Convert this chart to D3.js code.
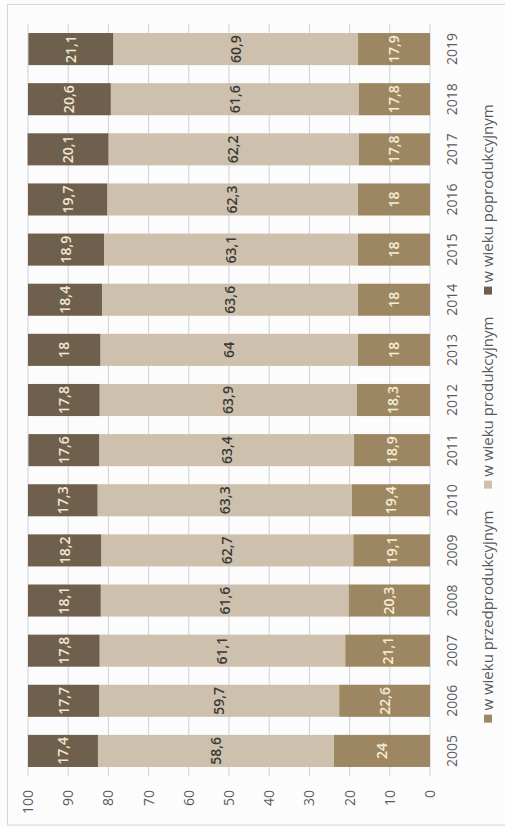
<!DOCTYPE html>
<html>
<head>
<meta charset="utf-8">
<script src="https://cdn.jsdelivr.net/npm/d3@7"></script>
<style>
  html, body { margin: 0; padding: 0; background: #fcfcfc; }
  svg { display: block; }
  text { font-family: "Open Sans", "Noto Sans", sans-serif; }
</style>
</head>
<body>
<svg id="chart" width="505" height="827"></svg>
<script>
const years = ["2005","2006","2007","2008","2009","2010","2011","2012","2013","2014","2015","2016","2017","2018","2019"];
const przedprodukcyjny = [24, 22.6, 21.1, 20.3, 19.1, 19.4, 18.9, 18.3, 18, 18, 18, 18, 17.8, 17.8, 17.9];
const produkcyjny = [58.6, 59.7, 61.1, 61.6, 62.7, 63.3, 63.4, 63.9, 64, 63.6, 63.1, 62.3, 62.2, 61.6, 60.9];
const poprodukcyjny = [17.4, 17.7, 17.8, 18.1, 18.2, 17.3, 17.6, 17.8, 18, 18.4, 18.9, 19.7, 20.1, 20.6, 21.1];
const seriesNames = ["w wieku przedprodukcyjnym", "w wieku produkcyjnym", "w wieku poprodukcyjnym"];
const valueTicks = [0, 10, 20, 30, 40, 50, 60, 70, 80, 90, 100];

const colors = ["#9d8762", "#cdc1ae", "#6f604e"];
const labelColors = ["#f4edd6", "#3b3a36", "#efe7cf"];

const svg = d3.select("#chart");
const W = 827, H = 505;

// chart border
svg.append("rect").attr("x", 7.5).attr("y", 4.5).attr("width", 520).attr("height", 820.5)
  .attr("fill", "none").attr("stroke", "#d6d6d6");

// landscape group rotated 90° counter-clockwise
const g = svg.append("g").attr("transform", `translate(0,${W}) rotate(-90)`);

const x = d3.scaleBand().domain(years).range([51, 803]).paddingInner(0.36).paddingOuter(0.18);
const y = d3.scaleLinear().domain([0, 100]).range([430, 28]);

// gridlines
g.append("g").selectAll("line").data(valueTicks).join("line")
  .attr("x1", 51).attr("x2", 803)
  .attr("y1", d => y(d)).attr("y2", d => y(d))
  .attr("stroke", "#cdd0db").attr("stroke-width", 1);

// stack data
const table = years.map((yr, i) => ({
  year: yr,
  [seriesNames[0]]: przedprodukcyjny[i],
  [seriesNames[1]]: produkcyjny[i],
  [seriesNames[2]]: poprodukcyjny[i]
}));
const stacked = d3.stack().keys(seriesNames)(table);

const fmt = v => String(v).replace(".", ",");

stacked.forEach((layer, k) => {
  const lg = g.append("g");
  lg.selectAll("rect").data(layer).join("rect")
    .attr("x", d => x(d.data.year))
    .attr("width", x.bandwidth())
    .attr("y", d => y(d[1]))
    .attr("height", d => y(d[0]) - y(d[1]))
    .attr("fill", colors[k]);
  lg.selectAll("text").data(layer).join("text")
    .attr("x", d => x(d.data.year) + x.bandwidth() / 2)
    .attr("y", d => (y(d[0]) + y(d[1])) / 2)
    .attr("dy", "0.36em")
    .attr("text-anchor", "middle")
    .attr("font-size", 14)
    .attr("font-weight", 600)
    .attr("fill", labelColors[k])
    .text(d => fmt(d.data[layer.key]));
});

// value axis labels
g.append("g").selectAll("text").data(valueTicks).join("text")
  .attr("x", 37).attr("y", d => y(d)).attr("dy", "0.36em")
  .attr("text-anchor", "end").attr("font-size", 14).attr("fill", "#5a5a5a")
  .text(d => d);

// year labels
g.append("g").selectAll("text").data(years).join("text")
  .attr("x", d => x(d) + x.bandwidth() / 2).attr("y", 452).attr("dy", "0.36em")
  .attr("text-anchor", "middle").attr("font-size", 14).attr("fill", "#5a5a5a")
  .text(d => d);

// legend
const leg = g.append("g");
const items = seriesNames.map((name, k) => {
  const it = leg.append("g");
  it.append("rect").attr("x", 0).attr("y", -4).attr("width", 8).attr("height", 8).attr("fill", colors[k]);
  const t = it.append("text").attr("x", 12).attr("y", 0).attr("dy", "0.36em")
    .attr("font-size", 15).attr("fill", "#5a5a5a").text(name);
  return { it, w: 12 + t.node().getComputedTextLength() };
});
const gap = 22;
const total = d3.sum(items, d => d.w) + gap * (items.length - 1);
let cx = W / 2 - total / 2;
items.forEach(d => { d.it.attr("transform", `translate(${cx},488)`); cx += d.w + gap; });
</script>
</body>
</html>
